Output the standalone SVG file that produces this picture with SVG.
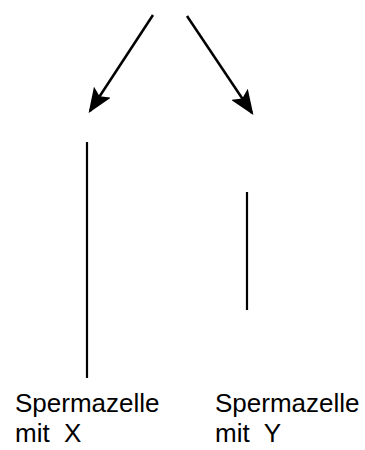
<svg xmlns="http://www.w3.org/2000/svg" width="365" height="450" viewBox="0 0 365 450">
<style>
.con{stroke:#000;stroke-width:2.5;fill:none}
.bar{stroke:#000;stroke-width:2.2}
.lbl{font-family:"Liberation Sans",Arial,sans-serif;font-size:26px;fill:#000;white-space:pre}
</style>
<defs>
<marker id="ah" markerWidth="10" markerHeight="8" refX="9" refY="4" orient="auto" markerUnits="strokeWidth">
<path d="M0,0 L10,4 L0,8 L2,4 Z" fill="#000"/>
</marker>
</defs>
<rect width="365" height="450" fill="#fff"/>
<g id="connectors">
<line class="con" x1="153" y1="15" x2="90" y2="111" marker-end="url(#ah)"/>
<line class="con" x1="187" y1="16" x2="252" y2="113" marker-end="url(#ah)"/>
</g>
<g id="chromX">
<line class="bar" x1="87" y1="142" x2="87" y2="378"/>
</g>
<g id="chromY">
<line class="bar" x1="247" y1="192" x2="247" y2="310"/>
</g>
<g id="labelX">
<text class="lbl" x="15" y="412">Spermazelle</text>
<text class="lbl" x="15" y="442" xml:space="preserve">mit  X</text>
</g>
<g id="labelY">
<text class="lbl" x="215" y="412">Spermazelle</text>
<text class="lbl" x="215" y="442" xml:space="preserve">mit  Y</text>
</g>
</svg>
